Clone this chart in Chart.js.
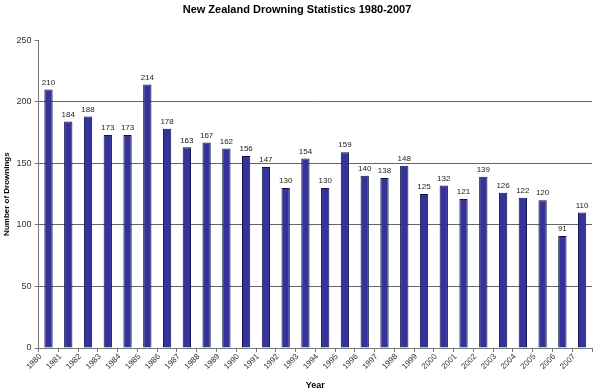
<!DOCTYPE html>
<html>
<head>
<meta charset="utf-8">
<script src="https://cdn.jsdelivr.net/npm/chart.js@4"></script>
<style>
  html, body { margin: 0; padding: 0; background: #fff; }
</style>
</head>
<body>
<canvas id="chart" width="600" height="392"></canvas>
<script>
const years = ['1980','1981','1982','1983','1984','1985','1986','1987','1988','1989','1990','1991','1992','1993',
  '1994','1995','1996','1997','1998','1999','2000','2001','2002','2003','2004','2005','2006','2007'];
const drownings = [210, 184, 188, 173, 173, 214, 178, 163, 167, 162, 156, 147, 130, 154,
  130, 159, 140, 138, 148, 125, 132, 121, 139, 126, 122, 120, 91, 110];
const yTicks = [0, 50, 100, 150, 200, 250];

// value labels on top of each bar
const barLabels = {
  id: 'barLabels',
  afterDatasetsDraw(chart) {
    const ctx = chart.ctx;
    const meta = chart.getDatasetMeta(0);
    ctx.save();
    ctx.font = '8px "Liberation Sans", Arial, sans-serif';
    ctx.fillStyle = '#222';
    ctx.textAlign = 'center';
    ctx.textBaseline = 'bottom';
    meta.data.forEach((bar, i) => {
      ctx.fillText(drownings[i], bar.x, bar.y - 3);
    });
    ctx.restore();
  }
};

new Chart(document.getElementById('chart'), {
  type: 'bar',
  data: {
    labels: years,
    datasets: [{
      data: drownings,
      backgroundColor: '#333399',
      borderColor: '#10104a',
      borderWidth: 1,
      categoryPercentage: 1,
      barPercentage: 0.42
    }]
  },
  options: {
    responsive: false,
    animation: false,
    devicePixelRatio: 1,
    layout: { padding: { left: 2, right: 8, top: 0, bottom: 0 } },
    plugins: {
      legend: { display: false },
      tooltip: { enabled: false },
      title: {
        display: true,
        text: 'New Zealand Drowning Statistics 1980-2007',
        color: '#000',
        font: { family: '"Liberation Sans", Arial, sans-serif', size: 11, weight: 'bold' },
        padding: { top: 3, bottom: 24 }
      }
    },
    scales: {
      x: {
        offset: true,
        afterFit(axis) { axis.height = 44; },
        grid: {
          offset: true,
          drawOnChartArea: false,
          color: '#777',
          tickLength: 4
        },
        border: { color: '#777' },
        ticks: {
          autoSkip: false,
          maxRotation: 45,
          minRotation: 45,
          labelOffset: -8,
          color: '#333',
          padding: 0,
          font: { family: '"Liberation Sans", Arial, sans-serif', size: 8 }
        },
        title: {
          display: true,
          text: 'Year',
          color: '#000',
          padding: { top: 0, bottom: 1 },
          font: { family: '"Liberation Sans", Arial, sans-serif', size: 9, weight: 'bold' }
        }
      },
      y: {
        min: 0,
        max: 250,
        afterBuildTicks(axis) { axis.ticks = yTicks.map(v => ({ value: v })); },
        grid: {
          color: ctx => (ctx.tick && ctx.tick.value === 250) ? 'rgba(0,0,0,0)' : '#666',
          tickColor: '#777',
          tickLength: 4
        },
        border: { color: '#777' },
        ticks: {
          color: '#333',
          padding: 3,
          font: { family: '"Liberation Sans", Arial, sans-serif', size: 9 }
        },
        title: {
          display: true,
          text: 'Number of Drownings',
          color: '#000',
          padding: { top: 0, bottom: 2 },
          font: { family: '"Liberation Sans", Arial, sans-serif', size: 8, weight: 'bold' }
        }
      }
    }
  },
  plugins: [barLabels]
});
</script>
</body>
</html>
